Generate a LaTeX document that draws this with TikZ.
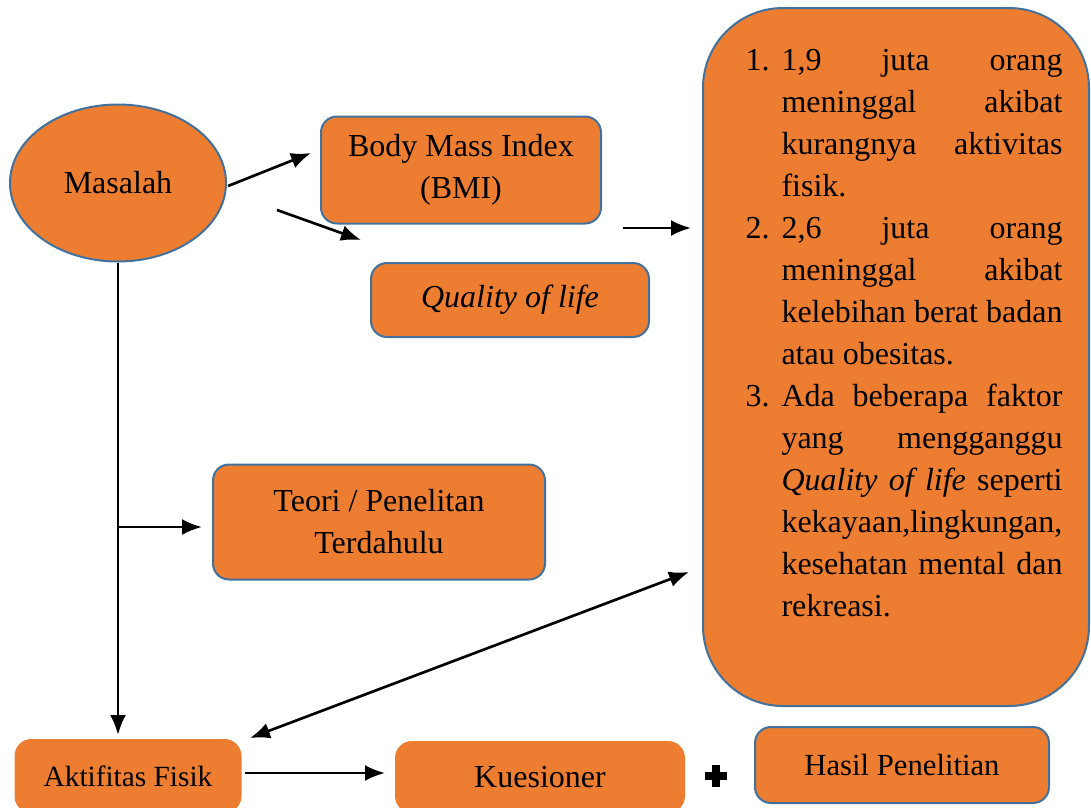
\documentclass[tikz,border=0pt]{standalone}
\usepackage{fontspec}
\setmainfont{Liberation Serif}
\usetikzlibrary{shapes.geometric,arrows.meta,calc}
\definecolor{oranye}{HTML}{ED7D31}
\definecolor{tepi}{HTML}{41719C}
\newcommand{\px}{0.375pt}
\newcommand{\huruf}{\fontsize{12}{15.75}\selectfont}
\tikzset{
    block/.style = {draw=tepi, fill=oranye, rectangle, rounded corners=6pt,
        line width=0.75pt, align=center, font=\huruf},
    blockpolos/.style = {block, draw=oranye},
    elips/.style = {draw=tepi, fill=oranye, ellipse, line width=0.75pt, font=\huruf},
    arrow/.style = {draw, line width=1pt, -{Latex[length=7.5pt,width=6pt]}},
    dblarrow/.style = {arrow, {Latex[length=7.5pt,width=6pt]}-{Latex[length=7.5pt,width=6pt]}}
}

\begin{document}
\begin{tikzpicture}[x=\px, y=-\px]
    \useasboundingbox (0,0) rectangle (1091,808);
    % kotak dan elips
    \node[elips, minimum width=216*\px, minimum height=157*\px] (masalah) at (118,183) {Masalah};
    \node[block, minimum width=280*\px, minimum height=107*\px] (bmi) at (461,170) {Body Mass Index\\(BMI)};
    \node[block, minimum width=278*\px, minimum height=74*\px, font=\huruf\itshape] (qol) at (510,300) {Quality of life};
    \node[block, minimum width=332*\px, minimum height=115*\px] (teori) at (379,522) {Teori / Penelitan\\Terdahulu};
    \node[block, rounded corners=30pt, minimum width=386*\px, minimum height=698*\px] (dampak) at (896,357) {};
    \node[anchor=north west, inner sep=0pt, text width=317*\px, align=justify, font=\huruf] (daftar) at (745,49) {%
        \noindent\hangindent=13.5pt\hangafter=1\makebox[13.5pt][l]{1.}1,9 juta orang\linebreak
        meninggal akibat\linebreak kurangnya aktivitas\linebreak fisik.\par
        \noindent\hangindent=13.5pt\hangafter=1\makebox[13.5pt][l]{2.}2,6 juta orang\linebreak
        meninggal akibat\linebreak kelebihan berat badan\linebreak atau obesitas.\par
        \noindent\hangindent=13.5pt\hangafter=1\makebox[13.5pt][l]{3.}Ada beberapa faktor\linebreak
        yang mengganggu\linebreak \textit{Quality of life} seperti\linebreak kekayaan,lingkungan,\linebreak
        kesehatan mental dan\linebreak rekreasi.\par};
    \node[blockpolos, minimum width=225*\px, minimum height=72*\px, font=\fontsize{11}{13}\selectfont] (aktifitas) at (128,776) {Aktifitas Fisik};
    \node[blockpolos, minimum width=288*\px, minimum height=70*\px] (kuesioner) at (540,777) {Kuesioner};
    \node[block, minimum width=294*\px, minimum height=76*\px, font=\fontsize{11.5}{13}\selectfont] (hasil) at (902,765) {Hasil Penelitian};
    % tanda tambah
    \node[inner sep=0pt, minimum size=22*\px] (tambah) at (716,776) {};
    \fill ($(tambah.center)+(-11,-4)$) rectangle ($(tambah.center)+(11,4)$);
    \fill ($(tambah.center)+(-4,-11)$) rectangle ($(tambah.center)+(4,11)$);
    % titik bebas
    \coordinate (m1) at (228,186);
    \coordinate (b1) at (311,153);
    \coordinate (q0) at (277,210);
    \coordinate (q1) at (361,240);
    \coordinate (d0) at (623,228);
    \coordinate (d1) at (691,228);
    \coordinate (bawah) at (masalah.south |- 0,735);
    \coordinate (cabang) at (masalah.south |- 0,527);
    \coordinate (t1) at (202,527);
    \coordinate (a0) at (250,738);
    \coordinate (a1) at (689,572);
    \coordinate (k0) at (245,773);
    \coordinate (k1) at (385,773);
    % panah
    \draw [arrow] (m1) -- (b1);
    \draw [arrow] (q0) -- (q1);
    \draw [arrow] (d0) -- (d1);
    \draw [arrow] (masalah.south) -- (bawah);
    \draw [arrow] (cabang) -- (t1);
    \draw [dblarrow] (a0) -- (a1);
    \draw [arrow] (k0) -- (k1);
\end{tikzpicture}
\end{document}
